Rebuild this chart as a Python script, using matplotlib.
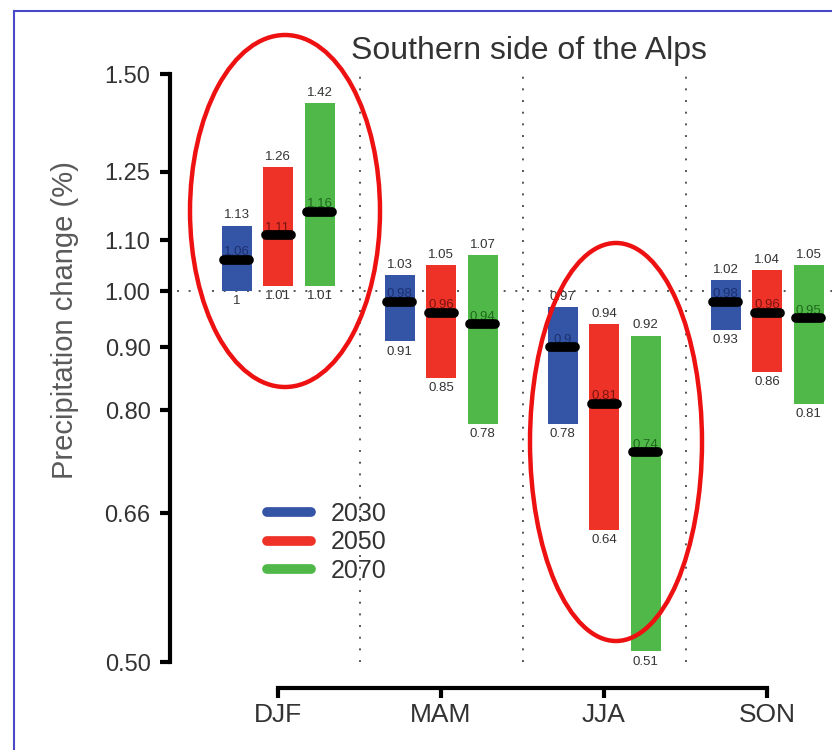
import matplotlib
matplotlib.use("Agg")
import matplotlib.pyplot as plt
from matplotlib.lines import Line2D
from matplotlib.patches import Ellipse
import numpy as np

plt.rcParams['font.family'] = ['Liberation Sans', 'DejaVu Sans']

seasons = ["DJF", "MAM", "JJA", "SON"]
periods = ["2030", "2050", "2070"]
colors = ["#3454a6", "#ee3228", "#4fb848"]
label_colors = ["#1c3070", "#7a1410", "#1f6a1c"]

low_2030 = [1.00, 0.91, 0.78, 0.93]
high_2030 = [1.13, 1.03, 0.97, 1.02]
med_2030 = [1.06, 0.98, 0.90, 0.98]

low_2050 = [1.01, 0.85, 0.64, 0.86]
high_2050 = [1.26, 1.05, 0.94, 1.04]
med_2050 = [1.11, 0.96, 0.81, 0.96]

low_2070 = [1.01, 0.78, 0.51, 0.81]
high_2070 = [1.42, 1.07, 0.92, 1.05]
med_2070 = [1.16, 0.94, 0.74, 0.95]

low_labels = [["1", "0.91", "0.78", "0.93"], ["1.01", "0.85", "0.64", "0.86"], ["1.01", "0.78", "0.51", "0.81"]]
high_labels = [["1.13", "1.03", "0.97", "1.02"], ["1.26", "1.05", "0.94", "1.04"], ["1.42", "1.07", "0.92", "1.05"]]
med_labels = [["1.06", "0.98", "0.9", "0.98"], ["1.11", "0.96", "0.81", "0.96"], ["1.16", "0.94", "0.74", "0.95"]]

yticks = [0.50, 0.66, 0.80, 0.90, 1.00, 1.10, 1.25, 1.50]
ytick_labels = ["0.50", "0.66", "0.80", "0.90", "1.00", "1.10", "1.25", "1.50"]

lows = [low_2030, low_2050, low_2070]
highs = [high_2030, high_2050, high_2070]
meds = [med_2030, med_2050, med_2070]

W, H = 832, 750
fig = plt.figure(figsize=(W / 100, H / 100), dpi=100)

# axes placement in pixels
ax_left, ax_right, ax_top, ax_bottom = 170, 832, 40, 662
ax = fig.add_axes([ax_left / W, 1 - ax_bottom / H, (ax_right - ax_left) / W, (ax_bottom - ax_top) / H])
ax.set_yscale('log')
px_per_log = (662 - 74) / np.log(3.0)
ymax = 0.5 * np.exp((ax_bottom - ax_top) / px_per_log)
ax.set_ylim(0.5, ymax)
grp = 163.0
x0_px = 278.0
ax.set_xlim((ax_left - x0_px) / grp, (ax_right - x0_px) / grp)

offset = 41.5 / grp
bw = 30 / grp
half_med = 12.5 / grp
x = np.arange(len(seasons))

# reference lines
ax.axhline(1.0, xmin=0.01, color="#555555", lw=1.4, ls=(0, (1, 5)), zorder=1)
ax.vlines([0.5, 1.5, 2.5], 0.5, 1.505, color="#555555", lw=1.4, ls=(0, (1, 5)), zorder=1)

for i in range(3):
    xs = x + (i - 1) * offset
    lo = np.array(lows[i]); hi = np.array(highs[i]); md = np.array(meds[i])
    ax.bar(xs, hi - lo, bottom=lo, width=bw, color=colors[i], zorder=2)
    for j in range(len(seasons)):
        ax.plot([xs[j] - half_med, xs[j] + half_med], [md[j], md[j]], color="black",
                lw=7, solid_capstyle='round', zorder=4)
        ax.annotate(high_labels[i][j], (xs[j], hi[j]), xytext=(0, 3), textcoords='offset points',
                    ha='center', va='bottom', fontsize=9.5, color="#333333", zorder=5)
        ax.annotate(low_labels[i][j], (xs[j], lo[j]), xytext=(0, -3), textcoords='offset points',
                    ha='center', va='top', fontsize=9.5, color="#333333", zorder=5)
        ax.annotate(med_labels[i][j], (xs[j], md[j]), xytext=(0, 1), textcoords='offset points',
                    ha='center', va='bottom', fontsize=9.5, color=label_colors[i], zorder=3)

# spines
for s in ['top', 'right']:
    ax.spines[s].set_visible(False)
ax.spines['left'].set_bounds(0.5, 1.5)
ax.spines['left'].set_linewidth(3)
ax.spines['left'].set_capstyle('projecting')
ax.spines['bottom'].set_position(('outward', 18.5))
ax.spines['bottom'].set_bounds(0, 3)
ax.spines['bottom'].set_linewidth(3)

ax.set_yticks(yticks)
ax.set_yticklabels(ytick_labels)
ax.yaxis.set_minor_locator(matplotlib.ticker.NullLocator())
ax.tick_params(axis='y', direction='out', length=7, width=3, pad=7, labelsize=17, labelcolor="#333333")
ax.set_xticks(x)
ax.set_xticklabels(seasons)
ax.tick_params(axis='x', direction='out', length=7, width=3, pad=4, labelsize=19, labelcolor="#333333")

fig.text(65 / W, 1 - 320 / H, "Precipitation change (%)", rotation=90, ha='center', va='center',
         fontsize=21, color="#5a5a5a")

fig.text(529 / W, 1 - 51 / H, "Southern side of the Alps", ha='center', va='center', fontsize=23, color="#333333")

# legend
handles = [Line2D([0], [0], color=c, lw=7, solid_capstyle='round') for c in colors]
ax.legend(handles, periods, loc='upper left', bbox_to_anchor=(267 / W, 1 - 502 / H),
          bbox_transform=fig.transFigure, frameon=False, fontsize=18, handlelength=1.75,
          handletextpad=0.8, labelspacing=0.17, borderpad=0, borderaxespad=0, labelcolor="#333333")

# red annotation ellipses (figure pixel coordinates)
def px_ellipse(cx, cy, w, h):
    e = Ellipse((cx / W, 1 - cy / H), w / W, h / H, transform=fig.transFigure,
                fill=False, edgecolor="#ee1111", lw=3.2, zorder=10)
    fig.patches.append(e)

px_ellipse(285, 211, 190, 352)
px_ellipse(616, 442, 172, 398)

# frame border (left and top edges)
fig.add_artist(Line2D([14 / W, 14 / W], [0, 1 - 11 / H], transform=fig.transFigure, color="#4848c8", lw=1.5))
fig.add_artist(Line2D([14 / W, 1], [1 - 11 / H, 1 - 11 / H], transform=fig.transFigure, color="#4848c8", lw=1.5))

fig.savefig("out.png", dpi=100)
